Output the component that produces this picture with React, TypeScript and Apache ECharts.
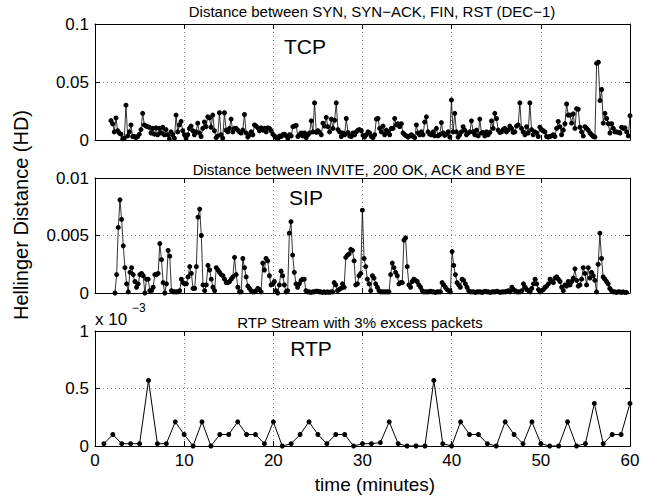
import React, { useEffect, useRef } from "react";
import * as echarts from "echarts";

// ---- data ----
// TCP Hellinger distance, units of 1e-2, sampled uniformly from ~1.8 min to 60 min
const TCP_START = 1.79;
const TCP_END = 60;
const TCP_HD = [
  1.67, 1.4, 0.7, 1.9, 0.8, 0.6, 0.5, 0.1, 0.15, 3.0,
  0.35, 0.7, 1.3, 0.3, 0.3, 0.2, 0.3, 0.5, 0.9, 2.3,
  1.3, 1.2, 1.15, 1.1, 0.6, 1.0, 0.5, 1.05, 0.45, 1.0,
  0.6, 1.1, 0.45, 0.9, 0.45, 0.1, 0.7, 0.45, 0.15, 2.15,
  0.7, 1.3, 1.6, 0.8, 0.45, 0.15, 0.45, 1.0, 1.2, 0.8,
  0.45, 0.7, 1.45, 0.6, 0.3, 1.0, 1.55, 1.15, 2.0, 1.9,
  1.1, 2.15, 0.8, 0.2, 0.35, 2.35, 0.45, 0.15, 2.35, 0.85,
  0.7, 1.0, 1.8, 0.7, 1.0, 1.0, 0.85, 0.7, 0.6, 0.85,
  2.2, 0.6, 0.25, 0.45, 0.7, 0.45, 1.3, 1.2, 1.05, 0.8,
  1.05, 0.85, 1.0, 0.7, 1.05, 1.0, 0.8, 0.5, 0.35, 0.2,
  0.1, 0.35, 0.3, 0.45, 0.5, 0.35, 0.15, 0.45, 0.35, 1.15,
  1.2, 1.25, 0.3, 0.45, 0.6, 0.35, 0.6, 0.2, 0.45, 0.6,
  1.65, 0.7, 3.2, 0.65, 0.8, 0.65, 0.45, 1.45, 1.2, 1.95,
  1.15, 0.7,
  1.8, 1.0, 1.7, 3.2, 0.9, 0.7, 0.3, 0.6, 0.45, 1.85,
  0.65, 0.35, 0.3, 0.6, 0.45, 0.7, 0.85, 0.9, 0.8, 0.4,
  0.25, 0.45, 0.7, 0.6, 0.3, 0.2, 0.45, 1.8, 1.85, 1.0,
  0.7, 1.2, 0.45, 0.85, 0.7, 0.45, 1.0, 1.0, 1.85, 1.3,
  1.4, 1.15, 1.4, 0.6, 0.45, 0.35, 0.25, 0.35, 0.45, 0.3,
  0.2, 1.3, 0.6, 0.45, 0.7, 0.45, 1.55, 2.0, 0.7, 0.5,
  0.45, 0.7, 0.35, 1.0, 0.35, 0.45, 1.5, 0.6, 0.4, 0.5,
  0.7, 0.25, 3.45, 0.7, 2.3, 0.7, 0.25, 0.45, 0.7, 1.15,
  0.85, 0.45, 0.6, 0.7, 1.65, 0.7, 0.45, 0.85, 0.35, 1.8,
  0.6, 0.65, 0.35, 0.7, 0.45, 0.65, 1.65, 1.0, 2.3, 1.85,
  0.85, 0.65, 0.7, 0.9, 1.0, 0.7, 0.85, 1.2, 1.0, 0.65,
  0.7, 1.2, 1.3, 3.2, 1.0, 0.7, 0.45, 1.15, 0.6, 3.2,
  0.9, 0.45, 0.7, 0.6, 0.3, 1.1, 0.9, 0.8, 0.7, 0.3,
  0.25, 0.3, 0.35, 0.45, 0.3, 1.0, 1.6, 1.15, 0.45, 0.85,
  1.4, 3.1, 2.15, 2.15, 1.45, 2.25, 1.0, 2.7, 2.65, 1.1,
  0.7, 0.35, 1.15, 1.0, 0.85, 0.6, 0.45, 0.3, 0.25, 6.6,
  6.7, 3.4, 4.35, 1.45, 2.3, 1.85, 1.4, 0.6, 1.4, 1.0,
  0.7, 0.7, 0.65, 0.6, 1.1, 1.0, 1.05, 0.7, 0.35, 2.1,
];

// SIP Hellinger distance, units of 1e-3
const SIP_START = 2.24;
const SIP_END = 59.6;
const SIP_HD = [
  0, 1.6, 5.7, 8.1, 6.4, 4.1, 2.2, 0.8, 0.1, 1.8,
  2.2, 1.6, 1.0, 0.5, 0.8, 1.6, 1.7, 1.5, 0, 1.2,
  1.2, 0.2, 0.2, 0.5, 1.6, 1.6, 1.7, 4.3, 2.9, 0.9,
  0, 0.8, 3.7, 3.2, 0.2, 0.1, 0.1, 0.1, 0.1, 0.2,
  1.2, 0.9, 0.8, 0.8, 1.4, 2.3, 1.7, 0.4, 0.4, 2.3,
  6.6, 7.3, 5.0, 0.7, 0.2, 0.7, 2.4, 2.0, 1.2, 0.5,
  0.2, 2.2, 2.0, 1.8, 1.6, 1.5, 1.2, 0.9, 0.9, 1.0,
  1.2, 1.4, 3.1, 1.6, 0.5, 0.1, 0.1, 3.0, 2.2, 1.4,
  0.6, 0.4, 0.2, 0.1, 0.1, 0.2, 0.4, 0.3, 0.1, 2.6,
  2.0, 3.0, 2.8, 1.5, 0.7, 0.8, 1.0, 0.2, 0, 0.7,
  1.9, 1.5, 0.7, 0.1, 0.2, 5.2, 6.2, 3.3, 1.8, 0.8,
  0.5, 0.8, 1.1, 1.2, 1.2, 0.2, 0.1,
  0.1, 0.05, 0.1, 0.1, 0.15, 0.15, 0.1, 0.1, 0.05, 0.1, 0.05, 0.1, 0.05, 0.1,
  0.1, 0.9, 0.7, 0.2, 0.3, 0.4, 0.8, 0.5, 3.1, 3.3,
  3.4, 3.8, 3.7, 2.8, 0.7, 0.8, 1.5, 1.7, 7.2, 3.0,
  2.3, 1.2, 0.8, 0.2, 1.5, 1.3, 0.8, 0.5, 0.2, 0.1,
  0.1, 0.1, 0.1, 0.1, 0.1, 1.6, 2.6, 2.2, 1.8, 1.5,
  0.8, 0.9, 0.9, 4.6, 4.8, 2.3, 0.7, 0.5, 1.0, 1.2,
  1.1, 1.0, 0.7, 0.5, 0.2, 0.1, 0.1, 0.1, 0.1, 0.15,
  0.1, 0.1, 0.05, 0.1, 0.1, 0.1, 0.9, 0.7, 0.5, 0.3,
  0.2, 0.1, 3.6, 2.4, 1.6, 0.9, 0.7, 0.5, 1.2, 1.1,
  0.8, 0.5, 0.2, 0.1,
  0.1, 0.1, 0.05, 0.1, 0.1, 0.1, 0.05, 0.1, 0.15, 0.1, 0.1, 0.05,
  0.1, 0.1, 0.1, 0.15, 0.1, 0.05, 0.1, 0.1, 0.1, 0.15, 0.2, 0.1,
  0.5, 0.3, 0.2, 0.1, 0.1, 0.1, 0.2, 0.8, 0.5, 0.3,
  0.2, 0.1, 0.4, 0.8, 1.2, 0.8, 0.3, 0.1, 0.2, 0.3,
  0.5, 0.6, 0.8, 1.2, 1.0, 0.9, 1.3, 1.4, 1.2, 1.0,
  0.5, 0.2, 0.7, 0.6, 1.0, 0.7, 1.0, 1.3, 2.1, 1.1,
  0.6, 0.7, 1.2, 2.2, 1.7, 0.7, 2.2, 1.3, 1.8, 1.5,
  1.1, 0.1, 2.5, 5.2, 3.0, 1.4, 1.2, 1.0, 0.8, 0.4,
  0.2, 0.1, 0.1, 0.05, 0.1, 0.1, 0.05, 0.1, 0.05, 0.05,
];

// RTP Hellinger distance, units of 1e-3, one sample per minute (1..60)
const RTP_MINUTES = [
  1, 2, 3, 4, 5, 6, 7, 8, 9, 10, 11, 12, 13, 14, 15, 16, 17, 18, 19, 20,
  21, 22, 23, 24, 25, 26, 27, 28, 29, 30, 31, 32, 33, 34, 35, 36, 37, 38, 39, 40,
  41, 42, 43, 44, 45, 46, 47, 48, 49, 50, 51, 52, 53, 54, 55, 56, 57, 58, 59, 60,
];
const RTP_HD = [
  0.02, 0.1, 0.02, 0.02, 0.02, 0.57, 0.02, 0.02, 0.21, 0.1,
  0, 0.21, 0, 0.1, 0.1, 0.21, 0.1, 0.1, 0.02, 0.21,
  0, 0.02, 0.1, 0.21, 0.1, 0.02, 0.1, 0.1, 0, 0.02,
  0.02, 0.03, 0.21, 0.02, 0, 0, 0, 0.57, 0.02, 0,
  0.21, 0.1, 0.1, 0.02, 0, 0.21, 0.1, 0.02, 0.21, 0.02,
  0, 0, 0.21, 0, 0.02, 0.37, 0.02, 0.1, 0.1, 0.37,
];

const X_TICKS = [0, 10, 20, 30, 40, 50, 60];

const TITLES = [
  "Distance between SYN, SYN\u2212ACK, FIN, RST (DEC\u22121)",
  "Distance between INVITE, 200 OK, ACK and BYE",
  "RTP Stream with 3% excess packets",
];
const PANEL_LABELS = ["TCP", "SIP", "RTP"];

const FONT = "'Liberation Sans', Arial, Helvetica, sans-serif";

function uniformSeries(values: number[], start: number, end: number) {
  const step = (end - start) / (values.length - 1);
  return values.map((v, i) => [start + i * step, v]);
}

export default function App() {
  const ref = useRef<HTMLDivElement>(null);

  useEffect(() => {
    if (!ref.current) return;
    const chart = echarts.init(ref.current, undefined, { renderer: "svg" });

    const grids = [
      { left: 95, right: 27, top: 24, height: 116 },
      { left: 95, right: 27, top: 178, height: 115 },
      { left: 95, right: 27, top: 331, height: 115 },
    ];

    const yCfg = [
      { max: 10, interval: 5, fmt: (v: number) => (v === 0 ? "0" : String(+(v / 100).toFixed(4))) },
      { max: 10, interval: 5, fmt: (v: number) => (v === 0 ? "0" : String(+(v / 1000).toFixed(5))) },
      { max: 1, interval: 0.5, fmt: (v: number) => String(v) },
    ];

    const axisLineStyle = { show: true, onZero: false, lineStyle: { color: "#000", width: 1 } };
    const tickStyle = { show: true, inside: true, length: 5, lineStyle: { color: "#000", width: 1 } };
    const gridLine = { show: true, lineStyle: { color: "#888", width: 1, type: [1, 3] as any } };

    const xAxis: any[] = [];
    const yAxis: any[] = [];
    grids.forEach((_, i) => {
      xAxis.push({
        gridIndex: i,
        type: "value",
        min: X_TICKS[0],
        max: X_TICKS[X_TICKS.length - 1],
        interval: 10,
        position: "bottom",
        axisLine: axisLineStyle,
        axisTick: tickStyle,
        axisLabel: {
          show: i === 2,
          color: "#000",
          fontSize: 17,
          fontFamily: FONT,
          margin: 6,
        },
        splitLine: gridLine,
      });
      xAxis.push({
        gridIndex: i,
        type: "value",
        min: 0,
        max: 60,
        interval: 10,
        position: "top",
        axisLine: axisLineStyle,
        axisTick: tickStyle,
        axisLabel: { show: false },
        splitLine: { show: false },
      });
      yAxis.push({
        gridIndex: i,
        type: "value",
        min: 0,
        max: yCfg[i].max,
        interval: yCfg[i].interval,
        position: "left",
        axisLine: axisLineStyle,
        axisTick: tickStyle,
        axisLabel: {
          color: "#000",
          fontSize: 17,
          fontFamily: FONT,
          margin: 6,
          formatter: yCfg[i].fmt,
        },
        splitLine: gridLine,
      });
      yAxis.push({
        gridIndex: i,
        type: "value",
        min: 0,
        max: yCfg[i].max,
        interval: yCfg[i].interval,
        position: "right",
        axisLine: axisLineStyle,
        axisTick: tickStyle,
        axisLabel: { show: false },
        splitLine: { show: false },
      });
    });

    const seriesData = [
      uniformSeries(TCP_HD, TCP_START, TCP_END),
      uniformSeries(SIP_HD, SIP_START, SIP_END),
      RTP_MINUTES.map((m, i) => [m, RTP_HD[i]]),
    ];

    const series = seriesData.map((data, i) => ({
      type: "line",
      xAxisIndex: i * 2,
      yAxisIndex: i * 2,
      data,
      symbol: "circle",
      symbolSize: 5,
      showSymbol: true,
      lineStyle: { color: "#000", width: i === 2 ? 1 : 0.8 },
      itemStyle: { color: "#000" },
      silent: true,
    }));

    const titlePos = [
      [372, 11],
      [359, 169],
      [360, 322],
    ];
    const labelPos = [
      [305, 46],
      [306, 197],
      [311, 348],
    ];

    const graphic: any[] = [];
    TITLES.forEach((t, i) => {
      graphic.push({
        type: "text",
        x: titlePos[i][0],
        y: titlePos[i][1],
        style: {
          text: t,
          fontSize: 15,
          fontFamily: FONT,
          fill: "#000",
          textAlign: "center",
          textVerticalAlign: "middle",
        },
      });
    });
    PANEL_LABELS.forEach((t, i) => {
      graphic.push({
        type: "text",
        x: labelPos[i][0],
        y: labelPos[i][1],
        style: {
          text: t,
          fontSize: 21,
          fontFamily: FONT,
          fill: "#000",
          textAlign: "center",
          textVerticalAlign: "middle",
        },
      });
    });
    graphic.push({
      type: "text",
      x: 95,
      y: 319,
      style: { text: "x 10", fontSize: 17, fontFamily: FONT, fill: "#000", textAlign: "left", textVerticalAlign: "middle" },
    });
    graphic.push({
      type: "text",
      x: 132,
      y: 308,
      style: { text: "\u22123", fontSize: 12, fontFamily: FONT, fill: "#000", textAlign: "left", textVerticalAlign: "middle" },
    });
    graphic.push({
      type: "text",
      x: 21,
      y: 215,
      rotation: Math.PI / 2,
      style: {
        text: "Hellinger Distance (HD)",
        fontSize: 20,
        fontFamily: FONT,
        fill: "#000",
        textAlign: "center",
        textVerticalAlign: "middle",
      },
    });
    graphic.push({
      type: "text",
      x: 375,
      y: 484,
      style: {
        text: "time (minutes)",
        fontSize: 19,
        fontFamily: FONT,
        fill: "#000",
        textAlign: "center",
        textVerticalAlign: "middle",
      },
    });

    chart.setOption({
      animation: false,
      backgroundColor: "#fff",
      grid: grids,
      xAxis,
      yAxis,
      series,
      graphic,
    });

    return () => chart.dispose();
  }, []);

  return (
    <div
      ref={ref}
      style={{ position: "fixed", left: 0, top: 0, width: 657, height: 504, background: "#fff" }}
    />
  );
}
